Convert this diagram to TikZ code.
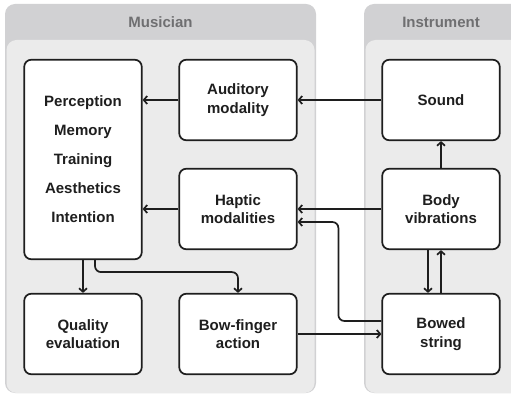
\documentclass[tikz,border=0pt]{standalone}
\usepackage{fontspec}
\setmainfont{Liberation Sans}
\usetikzlibrary{arrows.meta}
\definecolor{hdr}{HTML}{D1D1D3}
\definecolor{pnl}{HTML}{EBEBEB}
\definecolor{hdrtxt}{HTML}{6F6F71}
\definecolor{ink}{HTML}{1E1E1E}
\begin{document}
\begin{tikzpicture}[x=1pt,y=-1pt,
  box/.style={draw=ink,fill=white,line width=1.7pt,rounded corners=7pt,align=center,
    font=\bfseries\fontsize{15}{18.5}\selectfont,text=ink,inner sep=0pt,
    minimum width=117.5pt,minimum height=80.5pt},
  arr/.style={draw=ink,line width=1.7pt,-{Straight Barb[length=3.5pt,width=8pt]}},
  hdrlabel/.style={font=\bfseries\fontsize{15}{18}\selectfont,text=hdrtxt,anchor=base}]
\useasboundingbox (0,0) rectangle (511,395);
% panels
\fill[hdr,rounded corners=10pt] (5,4) rectangle (316,393);
\fill[pnl,rounded corners=10pt] (6.5,40) rectangle (314.5,393);
\fill[hdr,rounded corners=10pt] (364,4) rectangle (525,393);
\fill[pnl,rounded corners=10pt] (365.5,40) rectangle (525,393);
\node[hdrlabel] (hm) at (160.5,28) {Musician};
\node[hdrlabel] (hi) at (441,28) {Instrument};
% boxes
\node[box,minimum height=199.5pt,font=\bfseries\fontsize{15}{29}\selectfont] (per) at (83,159.5)
  {Perception\\Memory\\Training\\Aesthetics\\Intention};
\node[box] (aud) at (238,100) {Auditory\\modality};
\node[box] (hap) at (238,209) {Haptic\\modalities};
\node[box] (snd) at (441,100) {Sound};
\node[box] (body) at (441,209) {Body\\vibrations};
\node[box] (qual) at (83,334) {Quality\\evaluation};
\node[box] (bf) at (238,334) {Bow-finger\\action};
\node[box] (bow) at (441,334) {Bowed\\string};
% connectors
\draw[arr] (aud.west) -- (aud.west -| per.east);
\draw[arr] (snd.west) -- (aud.east);
\draw[arr] (hap.west) -- (hap.west -| per.east);
\draw[arr] (body.west) -- (hap.east);
\draw[arr] (body.north) -- (snd.south);
\draw[arr] ([xshift=-13pt]body.south) -- ([xshift=-13pt]bow.north);
\draw[arr] (bow.north) -- (body.south);
\draw[arr] (bf.east) -- (bow.west);
\draw[arr] (per.south) -- (qual.north);
\draw[arr,rounded corners=6pt] ([xshift=12pt]per.south) -- ++(0,12) -| (bf.north);
\draw[arr,rounded corners=6pt] ([yshift=13pt]bow.west) -- ++(-43,0) |- ([yshift=-13pt]hap.east);
\end{tikzpicture}
\end{document}
